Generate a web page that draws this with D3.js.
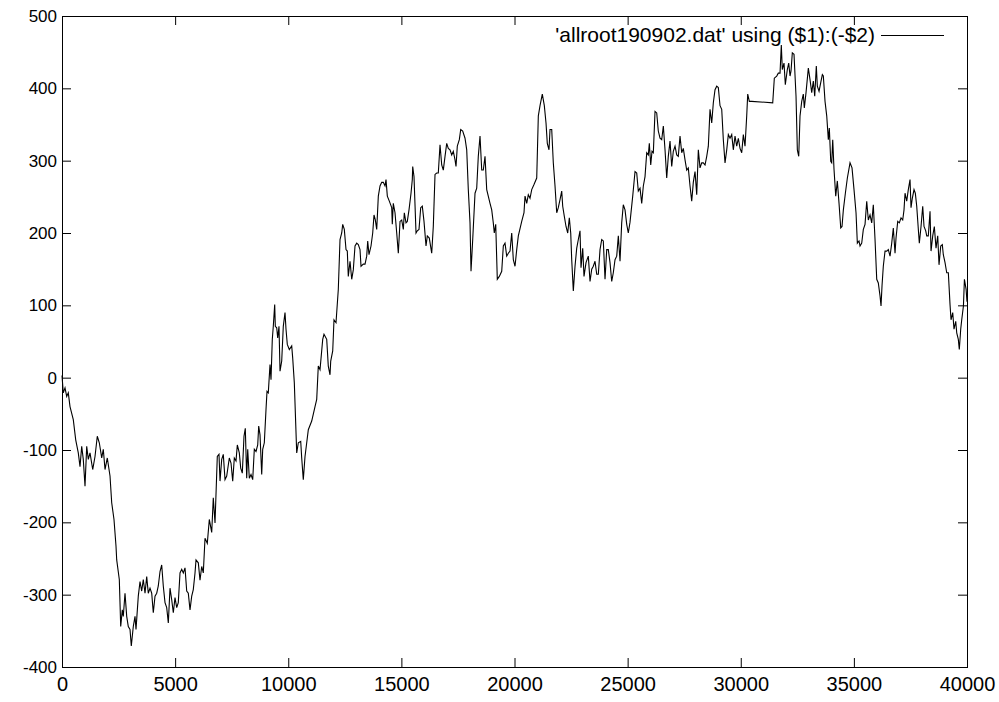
<!DOCTYPE html>
<html>
<head>
<meta charset="utf-8">
<script src="https://cdn.jsdelivr.net/npm/d3@7/dist/d3.min.js"></script>
<style>
  html, body { margin: 0; padding: 0; background: #fff; }
  svg { display: block; }
  text { font-family: "Liberation Sans", Arial, Helvetica, sans-serif; fill: #000; }
</style>
</head>
<body>
<svg id="chart" width="999" height="702"></svg>
<script>
// Sample positions (column 1) of allroot190902.dat
const xValues = [
  0, 57, 133, 208, 278, 354, 499, 606, 720, 796, 871, 941, 1017, 1092, 1163,
  1238, 1357, 1459, 1560, 1649, 1755, 1825, 1901, 2002, 2122, 2197, 2298, 2387, 2418, 2533,
  2595, 2665, 2709, 2785, 2860, 2930, 3006, 3063, 3151, 3227, 3271, 3372, 3448, 3523, 3593,
  3669, 3744, 3814, 3890, 3965, 4035, 4111, 4186, 4256, 4332, 4407, 4477, 4553, 4628, 4699,
  4774, 4849, 4920, 4995, 5070, 5140, 5216, 5291, 5362, 5437, 5512, 5582, 5658, 5733, 5803,
  5879, 5923, 6025, 6100,
  6175, 6245, 6321, 6422, 6511, 6617, 6687, 6763, 6864, 6939, 6984, 7059, 7129, 7205, 7280,
  7395, 7470, 7545, 7616, 7691, 7749, 7837, 7899, 7969, 8044, 8102, 8164, 8208, 8279, 8354,
  8429, 8500, 8575, 8650, 8694, 8752, 8827, 8871, 8942, 9017, 9061, 9118, 9194, 9238, 9295,
  9339, 9401, 9428, 9490, 9534, 9591, 9636, 9711, 9781, 9857, 9901, 9958, 10047, 10153, 10197,
  10268, 10374, 10445, 10551, 10595, 10665, 10741, 10816, 10887, 11037, 11183, 11258, 11328, 11404, 11523,
  11580, 11700, 11770, 11846,
  11877, 11965, 12022, 12111, 12212, 12288, 12363, 12407, 12478, 12553, 12610, 12654, 12730, 12805, 12875,
  12951, 13026, 13096, 13172, 13216, 13318, 13393, 13468, 13512, 13569, 13658, 13733, 13790, 13848, 13910,
  13981, 14056, 14131, 14202, 14277, 14321, 14379, 14467, 14573, 14599, 14643, 14719, 14794, 14865, 14940,
  15015, 15086, 15130, 15205, 15262, 15337, 15426, 15483, 15501, 15558, 15647, 15704, 15779, 15854, 15925,
  16000, 16089, 16146, 16234,
  16341, 16411, 16487, 16562, 16632, 16708, 16783, 16853, 16929, 17004, 17074, 17150, 17225, 17295, 17371,
  17415, 17472, 17561, 17623, 17711, 17813, 17888, 17958, 18034, 18078, 18153, 18255, 18330, 18400, 18476,
  18551, 18621, 18697, 18772, 18918, 18993, 19063, 19107, 19170, 19240, 19329, 19435, 19506, 19581, 19656,
  19727, 19802,
  19877, 19948, 20023, 20098, 20169, 20319, 20420, 20465, 20540, 20610, 20686, 20761, 20862, 20982, 21053,
  21128, 21229, 21318, 21393, 21450, 21525, 21570, 21645, 21715, 21791, 21866, 21936, 22012, 22087, 22131,
  22202, 22277, 22352, 22423, 22485, 22529, 22600, 22675, 22750, 22821, 22896, 22940, 23015, 23072, 23161,
  23262, 23338, 23413, 23483, 23559, 23634, 23705, 23780, 23855, 23925, 24001, 24076, 24146, 24222, 24297,
  24367, 24443, 24518, 24589, 24664,
  24738, 24809, 24885, 24960, 25030, 25106, 25225, 25327, 25402, 25472, 25548, 25623, 25694, 25769, 25844,
  25915, 25959, 26021, 26078, 26136, 26211, 26286, 26356, 26432, 26507, 26578, 26653, 26728, 26798, 26874,
  26949, 27019, 27095, 27170, 27240, 27316, 27391, 27461, 27537, 27612, 27682, 27758, 27833, 27903, 27979,
  28054, 28125, 28200, 28275, 28346, 28421, 28496, 28567, 28642, 28717, 28788, 28863, 28938, 29009, 29084,
  29159, 29230, 29305, 29380, 29451, 29526, 29601, 29672, 29747, 29822, 29893, 29968, 30043, 30114, 30189,
  30264, 30308, 30379, 30485, 31413, 31484, 31590, 31660, 31736, 31793, 31837, 31912, 31970, 32058, 32120,
  32178, 32222, 32279, 32354, 32443, 32501, 32563, 32620, 32695, 32765, 32810, 32885, 32987, 33062, 33137,
  33208, 33270, 33340, 33385, 33460, 33535, 33606, 33650, 33725, 33800, 33871, 33915, 33977, 34021, 34065,
  34122, 34198, 34269, 34344, 34419, 34476, 34535, 34624, 34712, 34830, 34918, 35006, 35095, 35153, 35227,
  35272,
  35347, 35418, 35493, 35568, 35639, 35714, 35789, 35859, 35935, 36010, 36080, 36156, 36200, 36244, 36301,
  36377, 36452, 36522, 36598, 36673, 36743, 36819, 36863, 36938, 37009, 37084, 37159, 37216, 37261, 37336,
  37406, 37482, 37526, 37583, 37658, 37716, 37778, 37849, 37893, 37968, 38043, 38100, 38176, 38220, 38290,
  38366, 38410, 38485, 38556, 38631, 38706, 38763, 38839, 38909, 38953, 39029, 39104, 39175, 39250, 39294,
  39369, 39426, 39502, 39546, 39616, 39660, 39722, 39767, 39842, 39886, 39961, 40000
];

// Negated column 2 at each sample
const yValues = [
  3, -21, -14, -26, -21, -40, -58, -86, -104, -123, -95, -113, -150, -95, -113,
  -104, -127, -109, -81, -90, -111, -99, -127, -111, -136, -173, -196, -233, -252, -279,
  -344, -321, -330, -298, -330, -344, -348, -371, -344, -330, -348, -302, -282, -295, -279,
  -298, -275, -298, -291, -298, -325, -302, -298, -288, -268, -259, -288, -311, -318, -339,
  -291, -307, -325, -304, -318, -311, -270, -265, -270, -263, -295, -298, -321, -302, -293,
  -270, -252, -256, -280,
  -261, -270, -222, -229, -196, -214, -166, -201, -109, -106, -143, -113, -106, -141, -136,
  -111, -118, -143, -111, -115, -93, -104, -125, -132, -81, -70, -139, -99, -139, -134,
  -141, -99, -102, -93, -67, -79, -134, -99, -90, -44, -19, -21, 18, -3, 53,
  71, 101, 71, 69, 55, 71, 9, 23, 71, 90, 67, 46, 39, 44, 27,
  -7, -104, -90, -88, -111, -141, -109, -90, -72, -60, -40, -30, 16, 11, 53,
  60, 53, 16, 4,
  23, 37, 80, 76, 122, 191, 200, 212, 205, 177, 175, 140, 161, 136, 149,
  182, 186, 184, 177, 154, 157, 157, 168, 189, 170, 182, 200, 225, 218, 205,
  251, 265, 270, 270, 265, 274, 251, 244, 235, 212, 241, 228, 200, 172, 216,
  218, 205, 228, 214, 216, 232, 255, 274, 292, 278, 200, 203, 205, 235, 237,
  216, 182, 196, 193,
  172, 209, 281, 283, 283, 322, 294, 287, 306, 324, 317, 315, 308, 313, 301,
  292, 320, 329, 343, 341, 331, 315, 260, 214, 147, 191, 255, 262, 306, 334,
  287, 287, 306, 260, 241, 232, 214, 200, 212, 136, 140, 147, 182, 186, 168,
  172, 175,
  200, 163, 154, 177, 196, 216, 228, 251, 241, 253, 248, 260, 267, 276, 362,
  376, 392, 376, 352, 324, 315, 343, 343, 297, 265, 228, 235, 246, 258, 237,
  223, 209, 200, 221, 200, 163, 120, 154, 179, 191, 203, 152, 179, 140, 159,
  168, 133, 150, 154, 161, 143, 143, 177, 191, 189, 136, 177, 177, 159, 133,
  145, 163, 168, 196, 161,
  214, 239, 232, 212, 200, 215, 251, 285, 283, 258, 262, 241, 265, 278, 311,
  308, 324, 294, 313, 311, 368, 366, 341, 331, 329, 348, 315, 276, 306, 327,
  292, 313, 320, 308, 306, 334, 311, 317, 301, 287, 290, 265, 244, 270, 285,
  253, 315, 290, 297, 297, 294, 306, 320, 371, 352, 380, 398, 403, 401, 376,
  371, 329, 297, 315, 336, 331, 336, 315, 334, 320, 331, 317, 311, 336, 320,
  362, 392, 382, 382, 380, 414, 417, 421, 421, 460, 426, 435, 405, 426, 435,
  417, 424, 449, 447, 389, 315, 306, 362, 382, 392, 373, 394, 428, 412, 394,
  410, 389, 431, 403, 396, 408, 419, 417, 382, 362, 329, 345, 299, 297, 329,
  288, 251, 272, 241, 207, 209, 232, 255, 276, 297, 290, 260, 228, 186, 189,
  182,
  186, 205, 212, 244, 218, 225, 214, 239, 191, 136, 131, 113, 99, 127, 154,
  175, 175, 177, 168, 186, 207, 172, 193, 216, 214, 221, 218, 232, 255, 244,
  260, 274, 235, 248, 260, 255, 237, 205, 186, 209, 237, 209, 203, 196, 196,
  230, 175, 196, 209, 179, 196, 156, 182, 184, 170, 159, 145, 145, 101, 80,
  90, 67, 78, 62, 53, 39, 67, 80, 99, 136, 122, 105
];

const xTicks = [0, 5000, 10000, 15000, 20000, 25000, 30000, 35000, 40000];
const yTicks = [-400, -300, -200, -100, 0, 100, 200, 300, 400, 500];
const seriesTitle = "'allroot190902.dat' using ($1):(-$2)";

(function draw() {
  const points = xValues.map((x, i) => ({ x, y: yValues[i] }));

  const svg = d3.select("#chart");
  const plotLeft = 62, plotRight = 967, plotTop = 16, plotBottom = 667;
  const fontFamily = '"Liberation Sans", Arial, Helvetica, sans-serif';

  const x = d3.scaleLinear().domain([0, 40000]).range([plotLeft, plotRight]);
  const y = d3.scaleLinear().domain([-400, 500]).range([plotBottom, plotTop]);

  const fmt = d => String(d);
  const tickLen = 9;

  // Bottom axis with labels, ticks pointing into the plot
  svg.append("g")
    .attr("class", "x-axis")
    .attr("transform", `translate(0,${plotBottom})`)
    .call(d3.axisBottom(x).tickValues(xTicks).tickFormat(fmt).tickSize(-tickLen).tickPadding(10))
    .call(g => g.select(".domain").remove())
    .call(g => g.selectAll("text").style("font-size", "20px"));

  // Left axis with labels
  svg.append("g")
    .attr("class", "y-axis")
    .attr("transform", `translate(${plotLeft},0)`)
    .call(d3.axisLeft(y).tickValues(yTicks).tickFormat(fmt).tickSize(-tickLen).tickPadding(5))
    .call(g => g.select(".domain").remove())
    .call(g => g.selectAll("text").style("font-size", "17px"));

  // Mirrored ticks on the top and right edges
  svg.append("g")
    .attr("transform", `translate(0,${plotTop})`)
    .call(d3.axisTop(x).tickValues(xTicks).tickFormat("").tickSize(-tickLen))
    .call(g => g.select(".domain").remove());
  svg.append("g")
    .attr("transform", `translate(${plotRight},0)`)
    .call(d3.axisRight(y).tickValues(yTicks).tickFormat("").tickSize(-tickLen))
    .call(g => g.select(".domain").remove());

  svg.selectAll(".tick text")
    .style("font-family", fontFamily)
    .attr("fill", "#000");
  svg.selectAll(".tick line").attr("stroke", "#000");

  // Plot frame
  svg.append("rect")
    .attr("x", plotLeft + 0.5).attr("y", plotTop + 0.5)
    .attr("width", plotRight - plotLeft).attr("height", plotBottom - plotTop)
    .attr("fill", "none").attr("stroke", "#000").attr("stroke-width", 1);

  // Data line
  const line = d3.line().x(d => x(d.x)).y(d => y(d.y));
  svg.append("path")
    .datum(points)
    .attr("d", line)
    .attr("fill", "none")
    .attr("stroke", "#000")
    .attr("stroke-width", 1.1)
    .attr("stroke-linejoin", "miter");

  // Key
  const keyY = 35;
  svg.append("text")
    .attr("x", 875).attr("y", keyY)
    .attr("dy", "0.35em")
    .attr("text-anchor", "end")
    .style("font-family", fontFamily)
    .style("font-size", "21px")
    .text(seriesTitle);
  svg.append("line")
    .attr("x1", 881).attr("x2", 944)
    .attr("y1", keyY + 0.5).attr("y2", keyY + 0.5)
    .attr("stroke", "#000").attr("stroke-width", 1);
})();
</script>
</body>
</html>
